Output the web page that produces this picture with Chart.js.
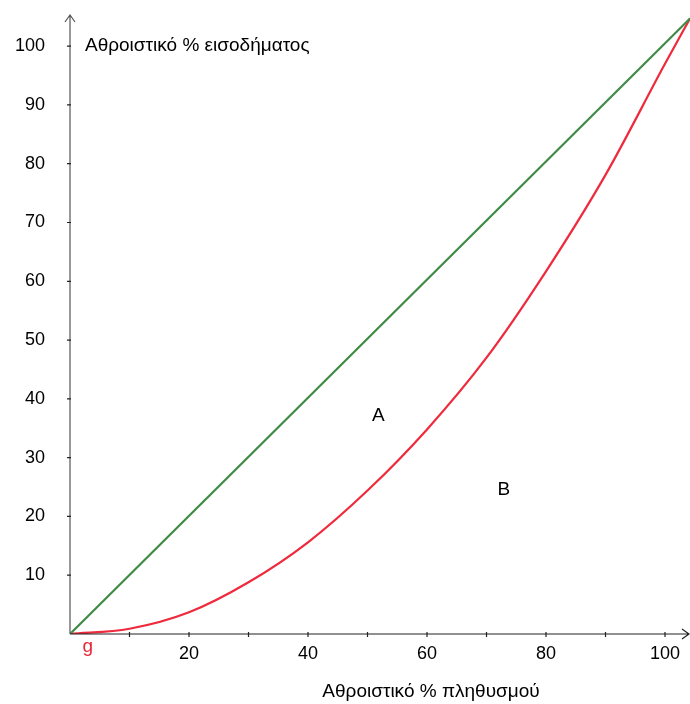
<!DOCTYPE html>
<html>
<head>
<meta charset="utf-8">
<script src="https://cdn.jsdelivr.net/npm/chart.js@4"></script>
<style>
  body { margin: 0; background: #fff; }
  canvas { display: block; }
</style>
</head>
<body>
<canvas id="lorenzChart" width="690" height="704"></canvas>
<script>
// cumulative % of population / income
const equalityX = [0, 104.2];
const equalityY = [0, 104.7];
const lorenzX = [0, 10, 20, 30, 40, 50, 60, 70, 80, 90, 100, 104.2];
const lorenzY = [0, 0.9, 3.7, 8.8, 15.6, 24.4, 34.8, 47.0, 61.7, 78.1, 97.0, 104.7];

const xTicks = [20, 40, 60, 80, 100];
const xMinorTicks = [10, 30, 50, 70, 90];
const yTicks = [10, 20, 30, 40, 50, 60, 70, 80, 90, 100];

const yTitle = 'Αθροιστικό % εισοδήματος';
const xTitle = 'Αθροιστικό % πληθυσμού';

const fontFamily = '"Liberation Sans", Arial, sans-serif';

function toPoints(xs, ys){
    let pts = [];
    for(let i = 0; i < xs.length; i++){
        pts.push({x: xs[i], y: ys[i]});
    }
    return pts;
}

// axes with arrows, small tick marks and the loose labels
const axesPlugin = {
    id: 'axesPlugin',
    afterDraw(chart){
        const ctx = chart.ctx;
        const xs = chart.scales.x;
        const ys = chart.scales.y;
        const x0 = xs.getPixelForValue(0);
        const y0 = ys.getPixelForValue(0);
        const right = chart.chartArea.right;
        const top = chart.chartArea.top;

        ctx.save();
        ctx.lineWidth = 1.2;

        // x axis
        ctx.strokeStyle = '#222';
        ctx.beginPath();
        ctx.moveTo(x0, y0);
        ctx.lineTo(right - 1, y0);
        ctx.moveTo(right - 8, y0 - 5);
        ctx.lineTo(right - 1, y0);
        ctx.lineTo(right - 8, y0 + 5);
        ctx.stroke();

        // y axis
        ctx.strokeStyle = '#555';
        ctx.beginPath();
        ctx.moveTo(x0, y0);
        ctx.lineTo(x0, top);
        ctx.moveTo(x0 - 5, top + 7);
        ctx.lineTo(x0, top);
        ctx.lineTo(x0 + 5, top + 7);
        ctx.stroke();

        // tick marks
        ctx.strokeStyle = '#222';
        ctx.beginPath();
        xTicks.concat(xMinorTicks).forEach(v => {
            const px = xs.getPixelForValue(v);
            ctx.moveTo(px, y0 - 2);
            ctx.lineTo(px, y0 + 3);
        });
        yTicks.forEach(v => {
            const py = ys.getPixelForValue(v);
            ctx.moveTo(x0 - 3, py);
            ctx.lineTo(x0 + 1, py);
        });
        ctx.stroke();

        // texts
        ctx.fillStyle = '#000';
        ctx.font = '19px ' + fontFamily;
        ctx.textBaseline = 'middle';
        ctx.textAlign = 'left';
        ctx.fillText(yTitle, x0 + 15, ys.getPixelForValue(100));
        ctx.textAlign = 'center';
        ctx.fillText(xTitle, 431, 692);

        ctx.fillText('A', xs.getPixelForValue(51.8), ys.getPixelForValue(37.2));
        ctx.fillText('B', xs.getPixelForValue(72.9), ys.getPixelForValue(24.5));
        ctx.fillStyle = '#e8283a';
        ctx.fillText('g', xs.getPixelForValue(3.0), ys.getPixelForValue(-2.2));
        ctx.restore();
    }
};

new Chart(document.getElementById('lorenzChart'), {
    type: 'scatter',
    data: {
        datasets: [{
            label: 'equality',
            data: toPoints(equalityX, equalityY),
            showLine: true,
            borderColor: '#3f8a45',
            borderWidth: 2.2,
            pointRadius: 0
        }, {
            label: 'lorenz',
            data: toPoints(lorenzX, lorenzY),
            showLine: true,
            borderColor: '#ee2a3c',
            borderWidth: 2.2,
            pointRadius: 0,
            cubicInterpolationMode: 'monotone'
        }]
    },
    options: {
        responsive: false,
        animation: false,
        layout: {padding: {top: 15, right: 0, left: 0, bottom: 0}},
        plugins: {legend: {display: false}, tooltip: {enabled: false}},
        scales: {
            x: {
                type: 'linear',
                min: 0,
                max: 104.2,
                grid: {display: false},
                border: {display: false},
                afterBuildTicks: scale => { scale.ticks = xTicks.map(v => ({value: v})); },
                afterFit: scale => {
                    scale.height = 70;
                    scale.paddingLeft = 0;
                    scale.paddingRight = 0;
                },
                ticks: {
                    padding: 1,
                    maxRotation: 0,
                    color: '#000',
                    font: {family: fontFamily, size: 18}
                }
            },
            y: {
                type: 'linear',
                min: 0,
                max: 105.3,
                grid: {display: false},
                border: {display: false},
                afterBuildTicks: scale => { scale.ticks = yTicks.map(v => ({value: v})); },
                afterFit: scale => {
                    scale.width = 70;
                    scale.paddingTop = 0;
                    scale.paddingBottom = 0;
                },
                ticks: {
                    padding: 17,
                    color: '#000',
                    font: {family: fontFamily, size: 18}
                }
            }
        }
    },
    plugins: [axesPlugin]
});
</script>
</body>
</html>
